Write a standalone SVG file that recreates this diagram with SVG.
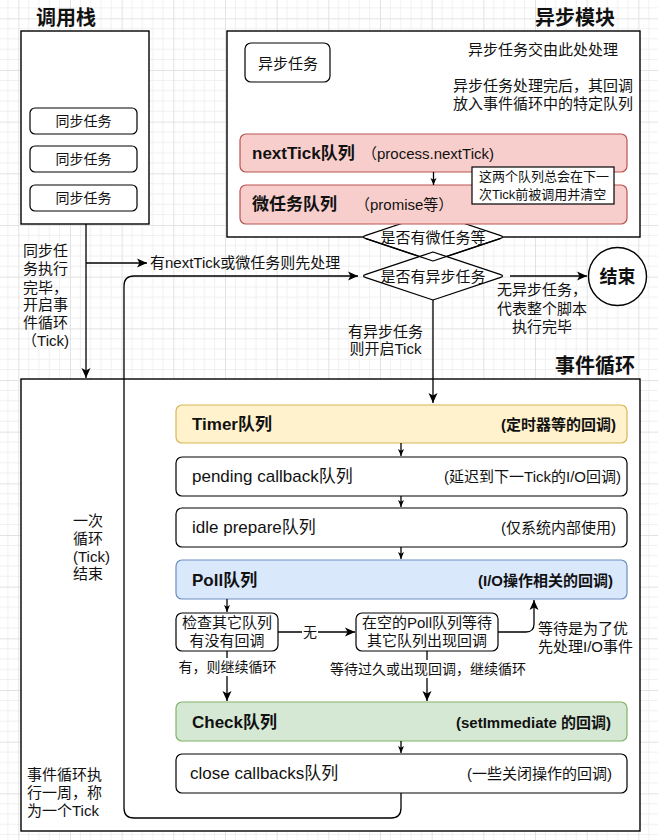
<svg xmlns="http://www.w3.org/2000/svg" width="658" height="840" viewBox="0 0 658 840">
<defs>
<pattern id="grid" x="18.3" y="18.3" width="51.67" height="51.67" patternUnits="userSpaceOnUse">
<path d="M10.33,0V51.67M20.67,0V51.67M31,0V51.67M41.33,0V51.67M0,10.33H51.67M0,20.67H51.67M0,31H51.67M0,41.33H51.67" stroke="#f0f0f0" stroke-width="1" fill="none"/>
<path d="M0.5,0V51.67M0,0.5H51.67" stroke="#e2e2e2" stroke-width="1" fill="none"/>
</pattern>
<marker id="ab" markerWidth="11" markerHeight="10" refX="10" refY="5" orient="auto" markerUnits="userSpaceOnUse">
<path d="M0,0.5L10,5L0,9.5L2.5,5Z" fill="#000"/>
</marker>
<marker id="as" markerWidth="8" markerHeight="8" refX="7" refY="3.5" orient="auto" markerUnits="userSpaceOnUse">
<path d="M0,0.5L7,3.5L0,6.5L1.8,3.5Z" fill="#000"/>
</marker>
</defs>
<style>
text{font-family:'Liberation Sans','Noto Sans CJK SC',sans-serif;fill:#111;dominant-baseline:central}
.c{text-anchor:middle}
.e{text-anchor:end}
.b{font-weight:bold}
.f13{font-size:13px}
.f14{font-size:14px}
.f15{font-size:15px}
.f17{font-size:17px}
.f20{font-size:20px}
.frame{fill:#fff;stroke:#000;stroke-width:1.4}
.q{fill:#fff;stroke:#000;stroke-width:1.2}
.red{fill:#f8cecc;stroke:#b85450;stroke-width:1.2}
.yel{fill:#fff2cc;stroke:#d6b656;stroke-width:1.2}
.blu{fill:#dae8fc;stroke:#6c8ebf;stroke-width:1.2}
.grn{fill:#d5e8d4;stroke:#82b366;stroke-width:1.2}
.ln{fill:none;stroke:#000;stroke-width:1.3}
.dia{fill:#fff;stroke:#000;stroke-width:1.3;stroke-linejoin:round}
.bg{fill:#fff}
</style>
<rect width="658" height="840" fill="#fff"/>
<rect width="658" height="840" fill="url(#grid)"/>

<g id="call-stack">
<text x="66" y="18" class="c b f20">调用栈</text>
<rect x="21" y="31" width="128" height="193" class="frame"/>
<g id="sync1"><rect x="30" y="108" width="107" height="26" rx="5" class="q"/><text x="83.5" y="121" class="c f14">同步任务</text></g>
<g id="sync2"><rect x="30" y="146" width="107" height="26" rx="5" class="q"/><text x="83.5" y="159" class="c f14">同步任务</text></g>
<g id="sync3"><rect x="30" y="185" width="107" height="26" rx="5" class="q"/><text x="83.5" y="198" class="c f14">同步任务</text></g>
</g>

<g id="async-module">
<text x="575" y="18" class="c b f20">异步模块</text>
<rect x="227" y="31" width="413" height="206" class="frame"/>
<g id="async-task"><rect x="245" y="43" width="85" height="39" rx="6" class="q"/><text x="288" y="63" class="c f15">异步任务</text></g>
<text x="543" y="49" class="c f15">异步任务交由此处处理</text>
<text x="543" y="85" class="c f15">异步任务处理完后，其回调</text>
<text x="543" y="103" class="c f15">放入事件循环中的特定队列</text>
</g>

<g id="diamond-micro">
<path d="M366,235.3 L433,213 L500,235.3 Q505,237 500,238.7 L433,261 L366,238.7 Q361,237 366,235.3 Z" class="dia"/>
</g>

<g id="nexttick-queue">
<rect x="240" y="134" width="387" height="38" rx="6" class="red"/>
<text x="252" y="153" class="b f17">nextTick队列</text>
<text x="362" y="153" class="f15">（process.nextTick)</text>
</g>
<g id="micro-queue">
<rect x="240" y="185" width="387" height="39" rx="6" class="red"/>
<text x="252" y="204" class="b f17">微任务队列</text>
<text x="355" y="204" class="f15">（promise等）</text>
</g>

<g id="note">
<rect x="472" y="167" width="142" height="37" fill="#fff" stroke="#000" stroke-width="1.2"/>
<text x="479" y="176" class="f13">这两个队列总会在下一</text>
<text x="479" y="194" class="f13">次Tick前被调用并清空</text>
</g>

<g id="diamond-async">
<path d="M366,274.3 L433,252 L500,274.3 Q505,276 500,277.7 L433,300 L366,277.7 Q361,276 366,274.3 Z" class="dia"/>
<path d="M366,238.7 L433,261 L500,238.7" fill="none" stroke="#000" stroke-width="1.3" stroke-linejoin="round"/>
<text x="433" y="276" class="c f15">是否有异步任务</text>
</g>
<text x="433" y="237" class="c f15">是否有微任务等</text>

<g id="end">
<circle cx="617.5" cy="276.5" r="29" fill="#fff" stroke="#000" stroke-width="1.4"/>
<text x="617.5" y="277" class="c b" font-size="18">结束</text>
</g>

<g id="event-loop">
<text x="595" y="366" class="c b f20">事件循环</text>
<rect x="21" y="379" width="619" height="452" class="frame"/>
<g id="timer"><rect x="176" y="405" width="451" height="38" rx="6" class="yel"/><text x="192" y="424" class="b f17">Timer队列</text><text x="616" y="424" class="e b f15">(定时器等的回调)</text></g>
<g id="pending"><rect x="176" y="457" width="451" height="39" rx="6" class="q"/><text x="192" y="476" class="f17">pending callback队列</text><text x="621" y="476" class="e f15">(延迟到下一Tick的I/O回调)</text></g>
<g id="idle"><rect x="176" y="508" width="451" height="39" rx="6" class="q"/><text x="192" y="527" class="f17">idle prepare队列</text><text x="616" y="527" class="e f15">(仅系统内部使用)</text></g>
<g id="poll"><rect x="176" y="560" width="451" height="39" rx="6" class="blu"/><text x="192" y="580" class="b f17">Poll队列</text><text x="613" y="580" class="e b f15">(I/O操作相关的回调)</text></g>
<g id="check-other"><rect x="176" y="613" width="102" height="38" rx="6" class="q"/><text x="227" y="622" class="c f15">检查其它队列</text><text x="227" y="640" class="c f15">有没有回调</text></g>
<g id="wait-poll"><rect x="356" y="613" width="142" height="38" rx="6" class="q"/><text x="427" y="622" class="c f15">在空的Poll队列等待</text><text x="427" y="640" class="c f15">其它队列出现回调</text></g>
<g id="check"><rect x="176" y="702" width="451" height="39" rx="6" class="grn"/><text x="192" y="722" class="b f17">Check队列</text><text x="611" y="722" class="e b f15">(setImmediate 的回调)</text></g>
<g id="close"><rect x="176" y="754" width="451" height="39" rx="6" class="q"/><text x="190" y="773" class="f17">close callbacks队列</text><text x="612" y="773" class="e f15">(一些关闭操作的回调)</text></g>
</g>

<g id="connectors">
<path d="M86,224 V378" class="ln" marker-end="url(#ab)"/>
<path d="M86,263 H147" class="ln" marker-end="url(#ab)"/>
<path d="M401,793 V808 Q401,818 391,818 H134 Q124,818 124,808 V286 Q124,276 134,276 H358" class="ln" marker-end="url(#ab)"/>
<path d="M433,300 V403" class="ln" marker-end="url(#ab)"/>
<path d="M510,276 H587" class="ln" marker-end="url(#ab)"/>
<path d="M433.5,172 V185" class="ln" stroke-width="1.1" marker-end="url(#as)"/>
<path d="M401,443 V456" class="ln" stroke-width="1.1" marker-end="url(#as)"/>
<path d="M401,496 V507" class="ln" stroke-width="1.1" marker-end="url(#as)"/>
<path d="M401,547 V559" class="ln" stroke-width="1.1" marker-end="url(#as)"/>
<path d="M401,741 V753" class="ln" stroke-width="1.1" marker-end="url(#as)"/>
<path d="M227,599 V612" class="ln" stroke-width="1.1" marker-end="url(#as)"/>
<path d="M278,632 H355" class="ln" marker-end="url(#ab)"/>
<path d="M227,651 V701" class="ln" marker-end="url(#ab)"/>
<path d="M427,651 V701" class="ln" marker-end="url(#ab)"/>
<path d="M498,632 H526 Q534,632 534,624 V600" class="ln" marker-end="url(#ab)"/>
<rect x="302" y="623" width="16" height="18" class="bg"/>
<text x="310" y="632" class="c f14">无</text>
<rect x="178" y="658" width="99" height="18" class="bg"/>
<text x="227.5" y="667" class="c f14">有，则继续循环</text>
<rect x="329" y="660" width="198" height="18" class="bg"/>
<text x="428" y="669" class="c f14">等待过久或出现回调，继续循环</text>
<text x="150" y="262" class="f15">有nextTick或微任务则先处理</text>
<text x="542" y="289" class="c f15">无异步任务，</text>
<text x="542" y="308" class="c f15">代表整个脚本</text>
<text x="542" y="326" class="c f15">执行完毕</text>
<text x="385.5" y="331" class="c f15">有异步任务</text>
<text x="385.5" y="348" class="c f15">则开启Tick</text>
<text x="538" y="628" class="f15">等待是为了优</text>
<text x="538" y="646" class="f15">先处理I/O事件</text>
</g>

<g id="notes-left">
<text x="45.5" y="250" class="c f15">同步任</text>
<text x="45.5" y="268" class="c f15">务执行</text>
<text x="45.5" y="287" class="c f15">完毕，</text>
<text x="45.5" y="304" class="c f15">开启事</text>
<text x="45.5" y="322" class="c f15">件循环</text>
<text x="45.5" y="340" class="c f15">（Tick)</text>
<text x="73" y="520" class="f15">一次</text>
<text x="73" y="538" class="f15">循环</text>
<text x="73" y="556" class="f15">(Tick)</text>
<text x="73" y="573" class="f15">结束</text>
<text x="27" y="774" class="f15">事件循环执</text>
<text x="27" y="792" class="f15">行一周，称</text>
<text x="27" y="810" class="f15">为一个Tick</text>
</g>
</svg>
